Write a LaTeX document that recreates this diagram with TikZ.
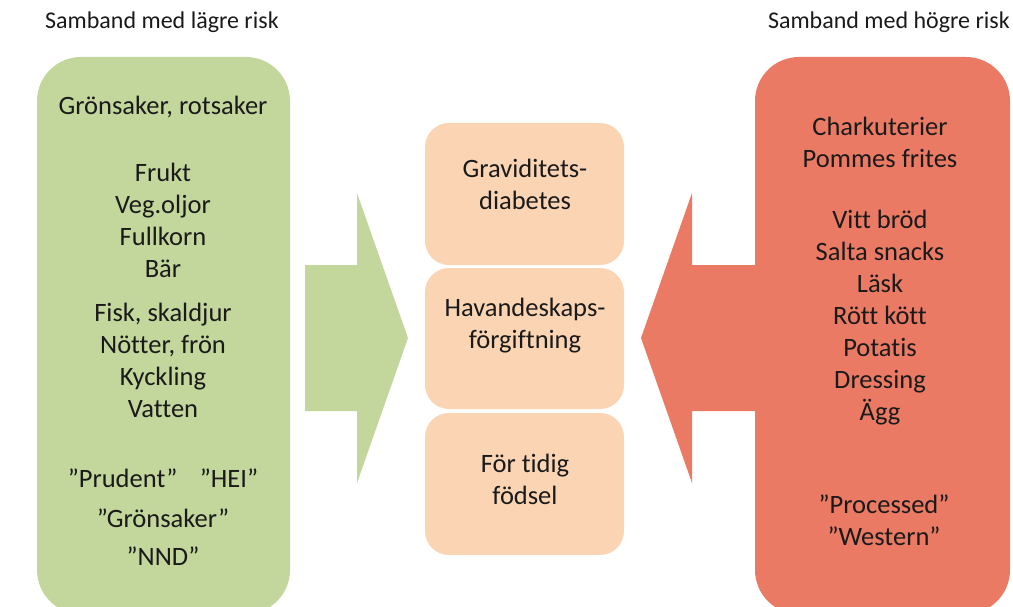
\documentclass[tikz,border=0pt]{standalone}
\usepackage{fontspec}
\setmainfont{Carlito}[Ligatures={NoCommon}]
\definecolor{greenbox}{HTML}{C3D69B}
\definecolor{redbox}{HTML}{EB7A64}
\definecolor{peach}{HTML}{FBD4B4}
\definecolor{txt}{HTML}{1A1A1A}
\begin{document}
\begin{tikzpicture}[x=1pt,y=-1pt,
  lbl/.style={font=\fontsize{26.5}{32}\selectfont, text=txt, align=center, inner sep=0pt},
  head/.style={font=\fontsize{24}{28}\selectfont, text=txt, inner sep=0pt},
  sidebox/.style={rounded corners=44pt},
  midbox/.style={fill=peach, rounded corners=24pt}]
\useasboundingbox (0,0) rectangle (1013,607);
\clip (0,0) rectangle (1013,607);
% arrows
\fill[greenbox] (305,265) -- (357,265) -- (357,193) -- (408,338) -- (357,483) -- (357,411) -- (305,411) -- cycle;
\fill[redbox] (760,265) -- (692,265) -- (692,193) -- (641,338) -- (692,483) -- (692,411) -- (760,411) -- cycle;
% side boxes
\fill[greenbox, sidebox] (37,57) rectangle (290,614);
\fill[redbox, sidebox] (755,57) rectangle (1010,614);
% middle boxes
\fill[midbox] (425,123) rectangle (624,265);
\fill[midbox] (425,268) rectangle (624,409);
\fill[midbox] (425,413) rectangle (624,555);
% headings
\node[head, anchor=west] (hl) at (45,22) {Samband med lägre risk};
\node[head, anchor=east] (hr) at (1010,22) {Samband med högre risk};
% left texts
\node[lbl] (l1) at (163,107) {Grönsaker, rotsaker};
\node[lbl] (l2) at (163,220) {Frukt\\Veg.oljor\\Fullkorn\\Bär};
\node[lbl] (l3) at (163,360) {Fisk, skaldjur\\Nötter, frön\\Kyckling\\Vatten};
\node[lbl] (l4) at (163,478) {”Prudent”\hspace{0.85em}”HEI”};
\node[lbl] (l5) at (163,518) {”Grönsaker”};
\node[lbl] (l6) at (163,556) {”NND”};
% middle texts
\node[lbl] (m1) at (525,184) {Graviditets-\\diabetes};
\node[lbl] (m2) at (525,326) {Havandeskaps-\\förgiftning};
\node[lbl] (m3) at (525,479) {För tidig\\födsel};
% right texts
\node[lbl] (r1) at (880,142) {Charkuterier\\Pommes frites};
\node[lbl] (r2) at (880,318) {Vitt bröd\\Salta snacks\\Läsk\\Rött kött\\Potatis\\Dressing\\Ägg};
\node[lbl] (r3) at (884,520) {”Processed”\\”Western”};
\end{tikzpicture}
\end{document}
